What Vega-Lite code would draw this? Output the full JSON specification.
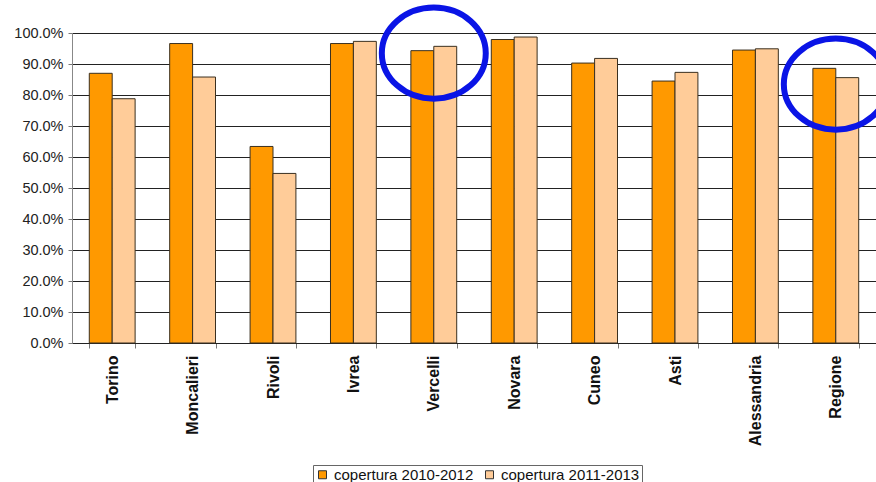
{
  "$schema": "https://vega.github.io/schema/vega-lite/v6.json",
  "width": 804,
  "height": 310,
  "autosize": {"type": "none"},
  "padding": {"left": 72, "top": 33, "right": 0, "bottom": 139},
  "background": "white",
  "config": {
    "view": {"stroke": null},
    "font": "Liberation Sans",
    "axis": {"labelFont": "Liberation Sans", "labelColor": "#222"}
  },
  "datasets": {
    "bars": [
      {"sede": "Torino", "serie": "copertura 2010-2012", "valore": 0.870},
      {"sede": "Torino", "serie": "copertura 2011-2013", "valore": 0.788},
      {"sede": "Moncalieri", "serie": "copertura 2010-2012", "valore": 0.966},
      {"sede": "Moncalieri", "serie": "copertura 2011-2013", "valore": 0.858},
      {"sede": "Rivoli", "serie": "copertura 2010-2012", "valore": 0.634},
      {"sede": "Rivoli", "serie": "copertura 2011-2013", "valore": 0.547},
      {"sede": "Ivrea", "serie": "copertura 2010-2012", "valore": 0.966},
      {"sede": "Ivrea", "serie": "copertura 2011-2013", "valore": 0.973},
      {"sede": "Vercelli", "serie": "copertura 2010-2012", "valore": 0.943},
      {"sede": "Vercelli", "serie": "copertura 2011-2013", "valore": 0.957},
      {"sede": "Novara", "serie": "copertura 2010-2012", "valore": 0.979},
      {"sede": "Novara", "serie": "copertura 2011-2013", "valore": 0.987},
      {"sede": "Cuneo", "serie": "copertura 2010-2012", "valore": 0.903},
      {"sede": "Cuneo", "serie": "copertura 2011-2013", "valore": 0.918},
      {"sede": "Asti", "serie": "copertura 2010-2012", "valore": 0.845},
      {"sede": "Asti", "serie": "copertura 2011-2013", "valore": 0.873},
      {"sede": "Alessandria", "serie": "copertura 2010-2012", "valore": 0.945},
      {"sede": "Alessandria", "serie": "copertura 2011-2013", "valore": 0.949},
      {"sede": "Regione", "serie": "copertura 2010-2012", "valore": 0.886},
      {"sede": "Regione", "serie": "copertura 2011-2013", "valore": 0.856}
    ],
    "cerchi": [
      {"sede": "Vercelli", "valore": 0.935},
      {"sede": "Regione", "valore": 0.835}
    ]
  },
  "encoding": {
    "x": {
      "field": "sede",
      "type": "nominal",
      "sort": ["Torino", "Moncalieri", "Rivoli", "Ivrea", "Vercelli", "Novara", "Cuneo", "Asti", "Alessandria", "Regione"],
      "scale": {"paddingInner": 0.43, "paddingOuter": 0.215},
      "axis": {
        "title": null,
        "labelAngle": -90,
        "labelAlign": "right",
        "labelBaseline": "middle",
        "labelFontSize": 16,
        "labelFontWeight": "bold",
        "labelColor": "#111",
        "labelPadding": 7,
        "tickBand": "extent",
        "ticks": true,
        "tickSize": 5,
        "tickColor": "#777",
        "domainColor": "#222",
        "grid": false
      }
    },
    "y": {
      "field": "valore",
      "type": "quantitative",
      "scale": {"domain": [0, 1], "nice": false},
      "axis": {
        "title": null,
        "values": [0, 0.1, 0.2, 0.3, 0.4, 0.5, 0.6, 0.7, 0.8, 0.9, 1.0],
        "format": ".1%",
        "labelFontSize": 14.5,
        "labelPadding": 5,
        "labelOverlap": false,
        "tickSize": 4,
        "tickColor": "#777",
        "domainColor": "#888",
        "grid": true,
        "gridColor": "#222",
        "gridWidth": 1
      }
    }
  },
  "layer": [
    {
      "data": {"name": "bars"},
      "mark": {"type": "bar", "stroke": "#3a3020", "strokeWidth": 1},
      "encoding": {
        "xOffset": {
          "field": "serie",
          "type": "nominal",
          "scale": {"paddingInner": 0, "paddingOuter": 0}
        },
        "color": {
          "field": "serie",
          "type": "nominal",
          "scale": {"range": ["#FF9900", "#FFCC99"]},
          "legend": {
            "title": null,
            "orient": "none",
            "legendX": 241,
            "legendY": 432,
            "direction": "horizontal",
            "symbolType": "square",
            "symbolSize": 64,
            "symbolStrokeColor": "#333",
            "symbolStrokeWidth": 1,
            "labelFontSize": 15,
            "labelColor": "#111",
            "labelOffset": 4,
            "columnPadding": 8,
            "strokeColor": "#666",
            "padding": 2
          }
        }
      }
    },
    {
      "data": {"name": "cerchi"},
      "mark": {
        "type": "point",
        "shape": "M-1.05,0A1.05,0.92,0,1,1,1.05,0A1.05,0.92,0,1,1,-1.05,0Z",
        "size": 9800,
        "filled": false,
        "stroke": "#0A14E6",
        "strokeWidth": 6,
        "opacity": 1
      },
      "encoding": {}
    }
  ]
}
